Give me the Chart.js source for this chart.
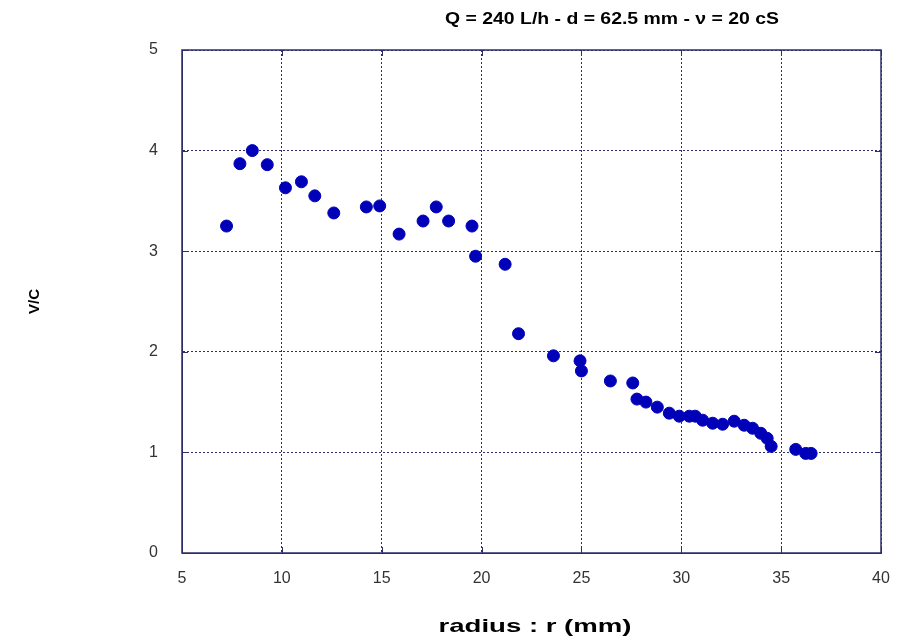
<!DOCTYPE html>
<html>
<head>
<meta charset="utf-8">
<script src="https://cdn.jsdelivr.net/npm/chart.js@4"></script>
<style>
  html, body { margin: 0; padding: 0; background: #fff; }
  #wrap { width: 914px; height: 642px; }
</style>
</head>
<body>
<div id="wrap"><canvas id="myChart"></canvas></div>
<script>
// radius r (mm) and V/C
const radius = [7.23, 7.9, 8.52, 9.27, 10.18, 10.98, 11.65, 12.6, 14.23, 14.9,
  15.87, 17.07, 17.73, 18.35, 19.52, 19.7, 21.18, 21.85, 23.6, 24.93, 25.0,
  26.45, 27.57, 27.78, 28.23, 28.8, 29.4, 29.9, 30.4, 30.7, 31.07, 31.57,
  32.07, 32.65, 33.15, 33.57, 33.98, 34.3, 34.5, 35.73, 36.23, 36.5];
const vOverC = [3.25, 3.87, 4.0, 3.86, 3.63, 3.69, 3.55, 3.38, 3.44, 3.45,
  3.17, 3.30, 3.44, 3.30, 3.25, 2.95, 2.87, 2.18, 1.96, 1.91, 1.81,
  1.71, 1.69, 1.53, 1.50, 1.45, 1.39, 1.36, 1.36, 1.36, 1.32, 1.29,
  1.28, 1.31, 1.27, 1.24, 1.19, 1.14, 1.06, 1.03, 0.99, 0.99];
const xTicks = [5, 10, 15, 20, 25, 30, 35, 40];
const yTicks = [0, 1, 2, 3, 4, 5];

const titleText = 'Q = 240 L/h - d = 62.5 mm - \u03bd = 20 cS';
const xTitleText = 'radius : r (mm)';
const yTitleText = 'V/C';

const navy = '#2e2e6a';

// short inner tick marks + solid frame
const frame = {
  id: 'frame',
  afterDatasetsDraw(chart) {
    const { ctx, chartArea: a, scales } = chart;
    ctx.save();
    ctx.strokeStyle = navy;
    ctx.lineWidth = 1;
    ctx.beginPath();
    xTicks.forEach(v => {
      const px = Math.round(scales.x.getPixelForValue(v)) + 0.5;
      ctx.moveTo(px, a.top); ctx.lineTo(px, a.top + 6);
      ctx.moveTo(px, a.bottom); ctx.lineTo(px, a.bottom - 6);
    });
    yTicks.forEach(v => {
      const py = Math.round(scales.y.getPixelForValue(v)) + 0.5;
      ctx.moveTo(a.left, py); ctx.lineTo(a.left + 6, py);
      ctx.moveTo(a.right, py); ctx.lineTo(a.right - 6, py);
    });
    ctx.stroke();
    ctx.lineWidth = 1.5;
    ctx.strokeRect(a.left, a.top, a.right - a.left, a.bottom - a.top);
    ctx.restore();
  }
};

// titles drawn with a horizontal stretch, like the old picture
function stretchedText(ctx, text, font, cx, cy, width, rot) {
  ctx.save();
  ctx.font = font;
  ctx.fillStyle = '#000';
  ctx.textAlign = 'center';
  ctx.textBaseline = 'middle';
  const w = ctx.measureText(text).width;
  ctx.translate(cx, cy);
  if (rot) ctx.rotate(rot);
  ctx.scale(width / w, 1);
  ctx.fillText(text, 0, 0);
  ctx.restore();
}

const titles = {
  id: 'titles',
  afterDraw(chart) {
    const { ctx, chartArea: a } = chart;
    stretchedText(ctx, titleText, 'bold 16px "Liberation Sans"', 612, 20, 334);
    stretchedText(ctx, xTitleText, 'bold 19px "Liberation Sans"', 535, 627, 193);
    stretchedText(ctx, yTitleText, 'bold 15px "Liberation Sans"', 35, (a.top + a.bottom) / 2, 25, -Math.PI / 2);
  }
};

const ctx = document.getElementById('myChart').getContext('2d');
new Chart(ctx, {
  type: 'scatter',
  data: {
    datasets: [{
      data: radius.map((r, i) => ({ x: r, y: vOverC[i] })),
      backgroundColor: '#0000b8',
      borderColor: '#0000b8',
      pointRadius: 6,
      pointHoverRadius: 6
    }]
  },
  options: {
    responsive: true,
    maintainAspectRatio: false,
    animation: false,
    layout: { padding: { left: 0, right: 33, top: 50, bottom: 0 } },
    plugins: {
      legend: { display: false },
      tooltip: { enabled: false },
      title: { display: false }
    },
    scales: {
      x: {
        type: 'linear',
        min: 5, max: 40,
        afterBuildTicks: s => { s.ticks = xTicks.map(v => ({ value: v })); },
        afterFit: s => { s.height = 89; },
        border: { display: true, color: navy, width: 1, dash: [2, 2] },
        grid: { color: navy, drawTicks: false, lineWidth: 1 },
        ticks: { color: '#333', padding: 16, font: { family: 'Liberation Sans', size: 16 }, maxRotation: 0 }
      },
      y: {
        min: 0, max: 5,
        afterBuildTicks: s => { s.ticks = yTicks.map(v => ({ value: v })); },
        afterFit: s => { s.width = 182; },
        border: { display: true, color: navy, width: 1, dash: [2, 2] },
        grid: { color: navy, drawTicks: false, lineWidth: 1 },
        ticks: { color: '#333', padding: 24, font: { family: 'Liberation Sans', size: 16 } }
      }
    }
  },
  plugins: [frame, titles]
});
</script>
</body>
</html>
